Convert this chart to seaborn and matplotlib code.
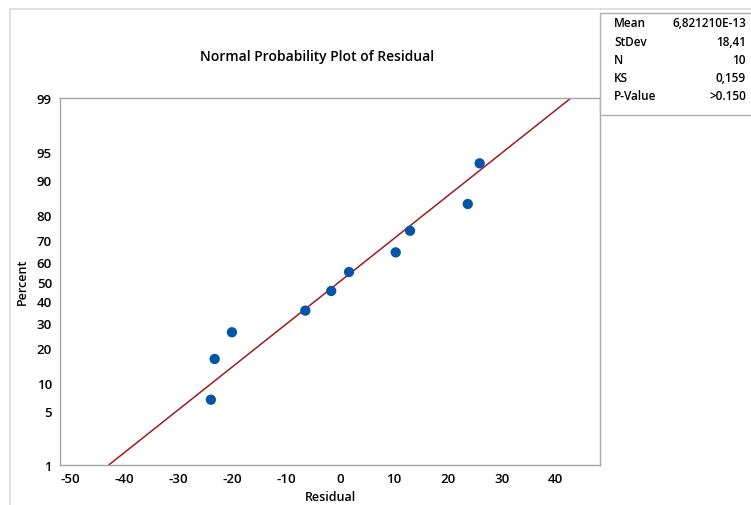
import matplotlib
matplotlib.use("Agg")
import matplotlib.pyplot as plt
import seaborn as sns
import pandas as pd
from statistics import NormalDist
from matplotlib.patches import Rectangle
from matplotlib.lines import Line2D

# ---- data ----
residuals = [-23.9, -23.2, -20.0, -6.4, -1.6, 1.7, 10.35, 13.0, 23.7, 25.9]
percents = [6.7, 16.3, 26.0, 35.6, 45.2, 54.8, 64.4, 74.0, 83.7, 93.3]
fit_mean = 0.0
fit_sd = 18.41
percent_ticks = [1, 5, 10, 20, 30, 40, 50, 60, 70, 80, 90, 95, 99]
x_ticks = [-50, -40, -30, -20, -10, 0, 10, 20, 30, 40]
stat_labels = ["Mean", "StDev", "N", "KS", "P-Value"]
stat_values = ["6,821210E-13", "18,41", "10", "0,159", ">0.150"]

nd = NormalDist()
def z(p):
    return nd.inv_cdf(p / 100.0)

sns.set_theme(style="white")
plt.rcParams['font.family'] = ['Open Sans', 'DejaVu Sans']
WEIGHT = "semibold"

W, H = 751, 506
fig = plt.figure(figsize=(W / 100, H / 100), dpi=100)

def fx(px):
    return px / W
def fy(py):
    return 1 - py / H

ax = fig.add_axes([fx(60.3), fy(466), fx(600) - fx(60.3), fy(99) - fy(466)])

df = pd.DataFrame({"Residual": residuals, "z": [z(p) for p in percents]})
zlo, zhi = z(percent_ticks[0]), z(percent_ticks[-1])
line_df = pd.DataFrame({"x": [fit_mean + fit_sd * zlo, fit_mean + fit_sd * zhi],
                        "z": [zlo, zhi]})

sns.lineplot(data=line_df, x="x", y="z", ax=ax, color="#9E1B1E", lw=1.1, zorder=2)
sns.scatterplot(data=df, x="Residual", y="z", ax=ax, color="#0654A6", s=55,
                edgecolor="none", zorder=3)

ax.set_xlim(-51.8, 48.2)
ax.set_ylim(zlo, zhi)
ax.set_xticks(x_ticks)
ax.set_xticklabels([str(t) for t in x_ticks], fontweight=WEIGHT)
ax.set_yticks([z(p) for p in percent_ticks])
ax.set_yticklabels([str(p) for p in percent_ticks], fontweight=WEIGHT)
ax.set_xlabel("")
ax.set_ylabel("")
for s in ax.spines.values():
    s.set_color("#a6a6a6")
    s.set_linewidth(1.0)
ax.tick_params(axis="both", direction="out", length=4, width=1.0, color="#a6a6a6",
               labelsize=9.5, labelcolor="#000000", pad=2)
ax.tick_params(axis="x", pad=1)

# titles and labels
fig.text(fx(317), fy(57), "Normal Probability Plot of Residual", ha="center", va="center",
         fontsize=10, color="#000000", fontweight=WEIGHT)
fig.text(fx(22), fy(282), "Percent", ha="center", va="center", rotation=90,
         fontsize=9, color="#000000", fontweight=WEIGHT)
fig.text(fx(331), fy(498), "Residual", ha="center", va="center", fontsize=9,
         color="#000000", fontweight=WEIGHT)

# outer frame lines
fig.add_artist(Line2D([fx(9.5), 1.0], [fy(10), fy(10)], transform=fig.transFigure,
                      color="#dcdcdc", lw=1.2))
fig.add_artist(Line2D([fx(9.5), fx(9.5)], [fy(10), 0], transform=fig.transFigure,
                      color="#dcdcdc", lw=1.2))

# stats box
fig.add_artist(Rectangle((fx(600), fy(116)), fx(170), fy(14) - fy(116),
                         transform=fig.transFigure, facecolor="white",
                         edgecolor="#b0b0b0", lw=1.0, zorder=5))
row_y = [24, 42, 61, 79, 97]
for lab, val, yy in zip(stat_labels, stat_values, row_y):
    fig.text(fx(614), fy(yy), lab, ha="left", va="center", fontsize=8.5,
             color="#000000", zorder=6, fontweight=WEIGHT)
    fig.text(fx(746), fy(yy), val, ha="right", va="center", fontsize=8.5,
             color="#000000", zorder=6, fontweight=WEIGHT)

fig.savefig("out.png", dpi=100)
